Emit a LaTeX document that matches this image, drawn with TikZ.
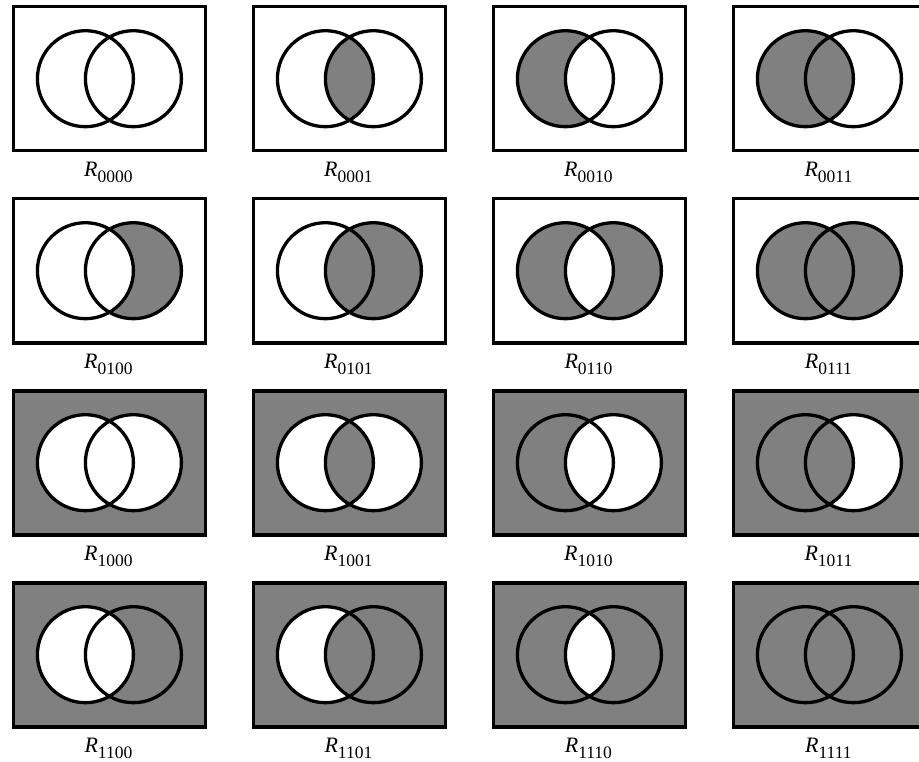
\documentclass[tikz,border=0pt]{standalone}
\usepackage{fontspec}
\setmainfont{Liberation Serif}
\usetikzlibrary{positioning}
\definecolor{shade}{HTML}{808080}
\tikzset{frame/.style={line width=3.6pt,draw=black},
  ring/.style={line width=3.3pt,draw=black},
  region/.style={fill=shade},
  lab/.style={anchor=base,inner sep=0pt,font=\fontsize{22}{22}\selectfont}}
\newcommand{\vennpanel}[1]{%
\pgfmathtruncatemacro{\pcol}{mod(#1,4)}
\pgfmathtruncatemacro{\prow}{div(#1,4)}
\pgfmathtruncatemacro{\bo}{div(#1,8)}
\pgfmathtruncatemacro{\br}{mod(div(#1,4),2)}
\pgfmathtruncatemacro{\bl}{mod(div(#1,2),2)}
\pgfmathtruncatemacro{\bm}{mod(#1,2)}
\pgfmathsetmacro{\cx}{109.4+240*\pcol}
\pgfmathsetmacro{\cy}{78.7+192*\prow}
\coordinate (m#1) at (\cx,\cy);
\coordinate (a#1) at (\cx-24,\cy);
\coordinate (b#1) at (\cx+24,\cy);
\ifnum\bo=1
 \fill[region] (\cx-96,\cy-72) rectangle +(192,144);
 \fill[white] (a#1) circle (48pt) (b#1) circle (48pt);
\fi
\ifnum\bl=1
 \begin{scope}\clip (a#1) circle (48pt);
 \fill[region,even odd rule] (a#1) circle (48pt) (b#1) circle (48pt);
 \end{scope}
\fi
\ifnum\br=1
 \begin{scope}\clip (b#1) circle (48pt);
 \fill[region,even odd rule] (a#1) circle (48pt) (b#1) circle (48pt);
 \end{scope}
\fi
\ifnum\bm=1
 \begin{scope}\clip (a#1) circle (48pt);
 \fill[region] (b#1) circle (48pt);
 \end{scope}
\fi
\draw[ring] (a#1) circle (48pt) (b#1) circle (48pt);
\draw[frame] (\cx-96,\cy-72) rectangle +(192,144);
\node[lab] (r#1) at (\cx-1,\cy+98)
  {\textit{R}\raisebox{-5.5pt}{\fontsize{17.5}{17.5}\selectfont\bo\br\bl\bm}};
}

\begin{document}
\begin{tikzpicture}[x=1pt,y=-1pt]
\path[use as bounding box] (0,0) rectangle (919,762);
\clip (0,0) rectangle (919,762);
\foreach \n in {0,...,15}{\vennpanel{\n}}
\end{tikzpicture}
\end{document}
